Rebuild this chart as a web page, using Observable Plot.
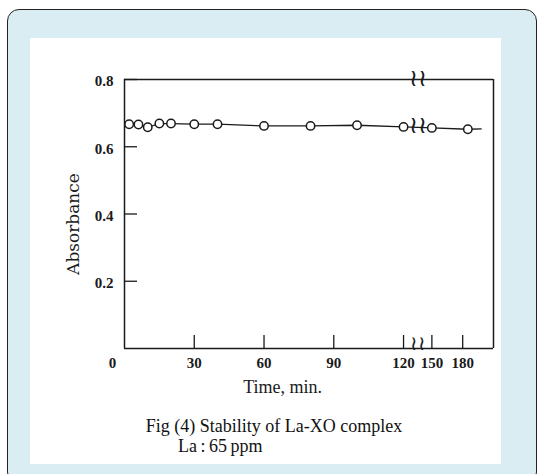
<!DOCTYPE html>
<html><head><meta charset="utf-8">
<script src="https://cdn.jsdelivr.net/npm/d3@7"></script>
<script src="https://cdn.jsdelivr.net/npm/@observablehq/plot@0.6"></script>
<style>
body{margin:0;background:#fff;}
#page{position:relative;width:539px;height:474px;overflow:hidden;}
#outer{position:absolute;left:7px;top:9px;width:530px;height:475px;box-sizing:border-box;border:1.5px solid #222;border-radius:12px;background:#d9edf2;}
#inner{position:absolute;left:30px;top:38px;width:471px;height:426px;background:#fff;}
#chart{position:absolute;left:30px;top:38px;}
.cap{position:absolute;font-family:"Liberation Serif",serif;font-size:18px;line-height:20px;color:#111;white-space:nowrap;}
</style>
</head>
<body>
<div id="page">
  <div id="outer"></div>
  <div id="inner"></div>
  <div id="chart"></div>
  <div class="cap" style="top:416px;left:0;width:548px;text-align:center;">Fig (4) Stability of La-XO complex</div>
  <div class="cap" style="top:436px;left:178px;word-spacing:-1px;">La : 65 ppm</div>
</div>
<script>
// Data
const times = [2, 6, 10, 15, 20, 30, 40, 60, 80, 100, 120, 150, 185];
const absorbance = [0.667, 0.666, 0.658, 0.669, 0.669, 0.667, 0.667, 0.662, 0.662, 0.664, 0.659, 0.656, 0.652];
const tailTime = [198];
const tailAbsorbance = [0.653];
const xTicks = [30, 60, 90, 120, 150, 180];
const yTicks = [0.2, 0.4, 0.6, 0.8];
const breakLevels = [0.8, 0.662];
const axisBreakLevels = [0];
const xLabel = "Time, min.";
const yLabel = "Absorbance";

const pts = times.map((t, i) => ({t, a: absorbance[i]}));
const linePts = pts.concat(tailTime.map((t, i) => ({t, a: tailAbsorbance[i]})));

const ink = "#1a1a1a";
const serif = "Liberation Serif";

const chart = Plot.plot({
  width: 471,
  height: 365,
  style: {background: "transparent", overflow: "visible"},
  x: {type: "linear", domain: [0, 126, 136, 210], range: [94, 387, 387, 463], axis: null},
  y: {domain: [0, 0.8], range: [310, 41], axis: null},
  marks: [
    Plot.ruleY([0, 0.8], {x1: () => 0, x2: () => 210, stroke: ink, strokeWidth: 1.5}),
    Plot.ruleX([0, 210], {y1: () => 0, y2: () => 0.8, stroke: ink, strokeWidth: 1.5}),
    Plot.ruleX(xTicks, {x: d => d, y1: () => 0, y2: () => 0, insetTop: -13, stroke: ink, strokeWidth: 1.3}),
    Plot.ruleY(yTicks, {y: d => d, x1: () => 0, x2: () => 0, insetRight: -13, stroke: ink, strokeWidth: 1.3}),
    Plot.line(linePts, {x: "t", y: "a", stroke: ink, strokeWidth: 1.3}),
    Plot.dot(pts, {x: "t", y: "a", r: 4.2, fill: "white", stroke: ink, strokeWidth: 1.5}),
    Plot.text(breakLevels, {x: () => 131, y: d => d, text: () => "≀≀", dy: -1, fontFamily: "DejaVu Serif", fontSize: 24, fill: ink}),
    Plot.text(axisBreakLevels, {x: () => 131, y: d => d, text: () => "≀≀", dy: -5, fontFamily: "DejaVu Serif", fontSize: 20, fill: ink}),
    Plot.text(xTicks, {x: d => d, y: () => 0, text: d => String(d), dy: 15, fontFamily: serif, fontSize: 15, fontWeight: "bold", fill: ink}),
    Plot.text([0], {x: d => d, y: () => 0, text: d => String(d), dx: -12, dy: 15, fontFamily: serif, fontSize: 15, fontWeight: "bold", fill: ink}),
    Plot.text(yTicks, {x: () => 0, y: d => d, text: d => d.toFixed(1), dx: -11, dy: 2, textAnchor: "end", fontFamily: serif, fontSize: 15, fontWeight: "bold", fill: ink}),
    Plot.text([xLabel], {x: () => 68, y: () => 0, text: d => d, dy: 39, fontFamily: serif, fontSize: 18, fill: ink}),
    Plot.text([yLabel], {x: () => 0, y: () => 0.4, text: d => d, dx: -51, dy: 10, rotate: -90, fontFamily: "DejaVu Serif", fontSize: 17, fill: ink})
  ]
});
document.getElementById("chart").appendChild(chart);
</script>
</body></html>
